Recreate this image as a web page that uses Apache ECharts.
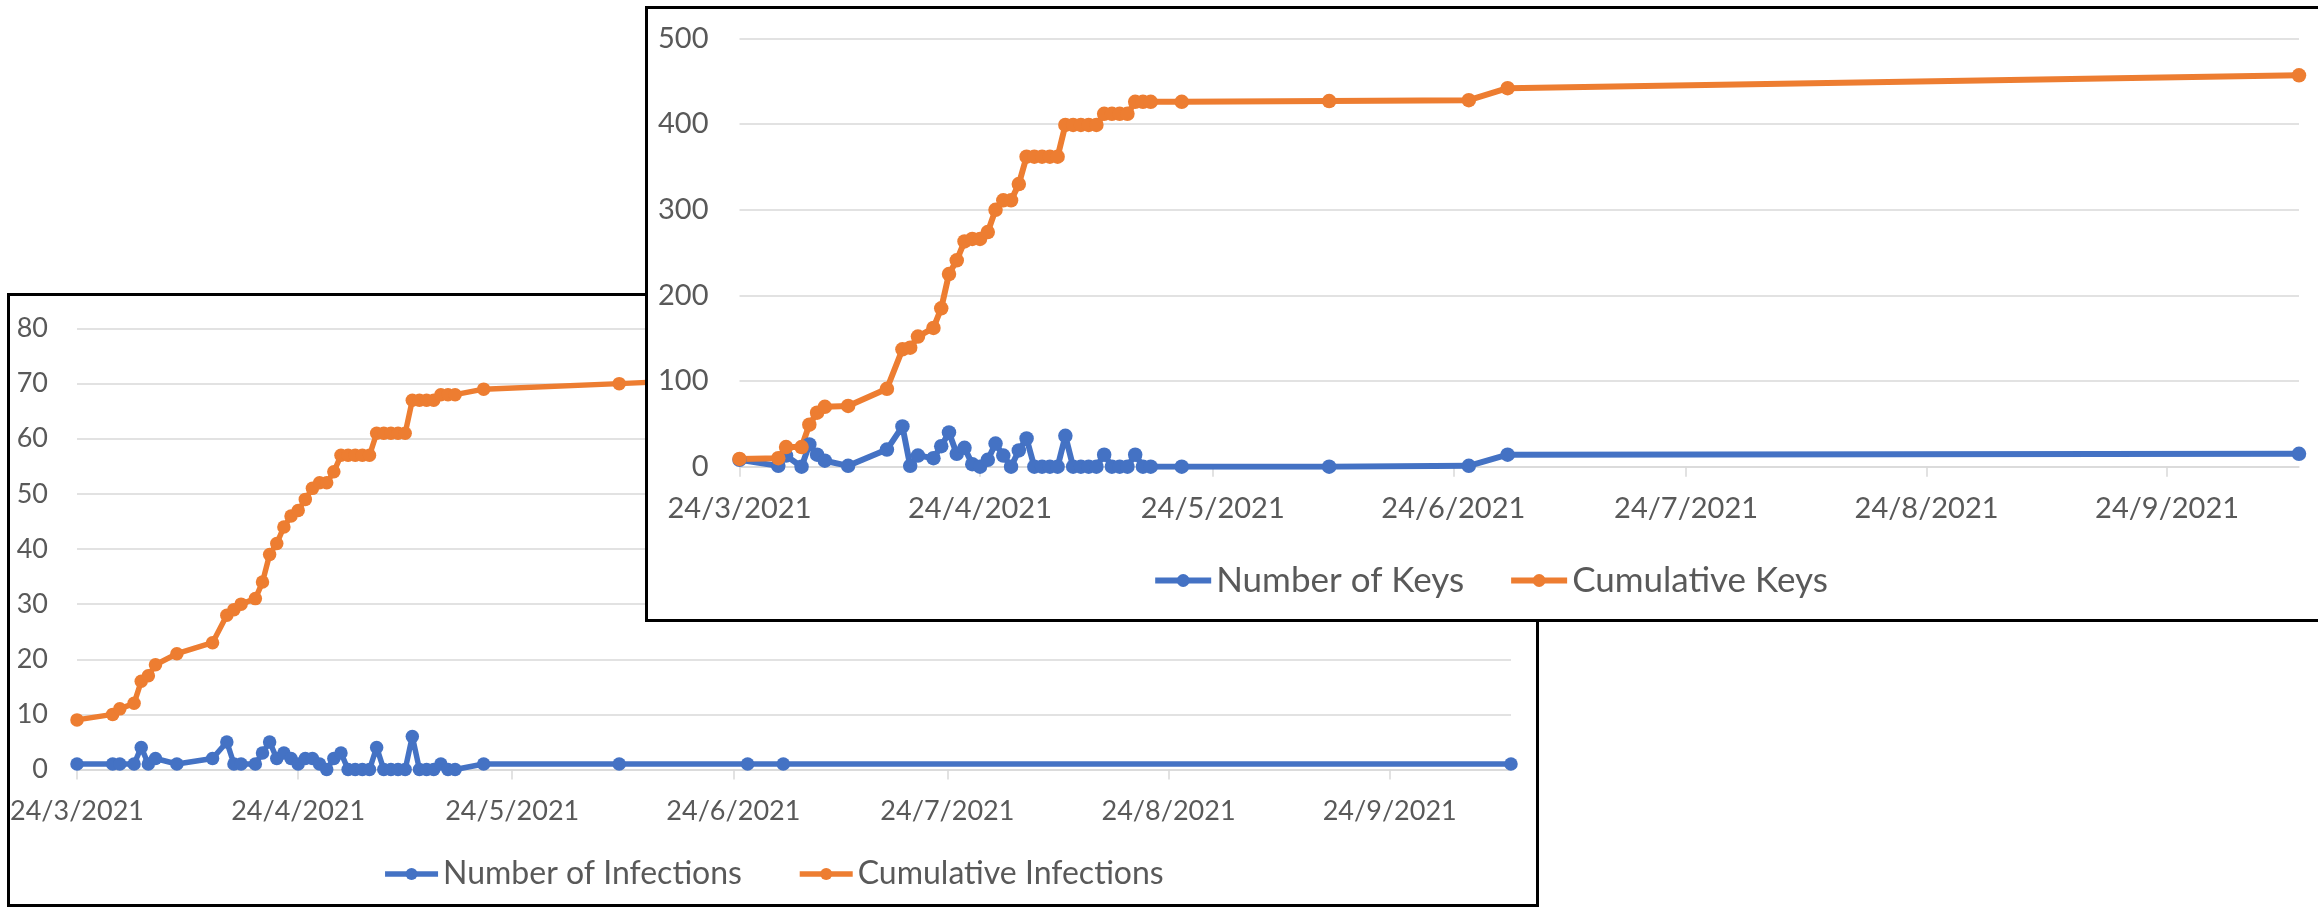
<!DOCTYPE html>
<html>
<head>
<meta charset="utf-8">
<title>Infections and Keys</title>
<script src="https://cdn.jsdelivr.net/npm/echarts@6.0.0/dist/echarts.min.js"></script>
<style>
  html, body { margin: 0; padding: 0; background: #fff; }
  body { width: 2318px; height: 907px; position: relative; overflow: hidden; }
  .box { position: absolute; box-sizing: border-box; border: 3px solid #000; background: #fff; }
  #infections-box { left: 7px; top: 293px; width: 1532px; height: 614px; z-index: 1; }
  #keys-box { left: 645px; top: 6px; width: 1690px; height: 616px; z-index: 2; }
  .chart { width: 100%; height: 100%; }
</style>
</head>
<body>
<div class="box" id="infections-box"><div class="chart" id="infections-chart"></div></div>
<div class="box" id="keys-box"><div class="chart" id="keys-chart"></div></div>

<script>
// report dates (shared by both charts)
const dates = [
  '2021-03-24', '2021-03-29', '2021-03-30', '2021-04-01', '2021-04-02', '2021-04-03',
  '2021-04-04', '2021-04-07', '2021-04-12', '2021-04-14', '2021-04-15', '2021-04-16',
  '2021-04-18', '2021-04-19', '2021-04-20', '2021-04-21', '2021-04-22', '2021-04-23',
  '2021-04-24', '2021-04-25', '2021-04-26', '2021-04-27', '2021-04-28', '2021-04-29',
  '2021-04-30', '2021-05-01', '2021-05-02', '2021-05-03', '2021-05-04', '2021-05-05',
  '2021-05-06', '2021-05-07', '2021-05-08', '2021-05-09', '2021-05-10', '2021-05-11',
  '2021-05-12', '2021-05-13', '2021-05-14', '2021-05-15', '2021-05-16', '2021-05-20',
  '2021-06-08', '2021-06-26', '2021-07-01', '2021-10-11'
];

const infections = [
  1, 1, 1, 1, 4, 1, 2, 1, 2, 5, 1, 1,
  1, 3, 5, 2, 3, 2, 1, 2, 2, 1, 0, 2, 3,
  0, 0, 0, 0, 4, 0, 0, 0, 0, 6, 0, 0, 0, 1, 0, 0,
  1, 1, 1, 1, 1
];
const cumInfections = [
  9, 10, 11, 12, 16, 17, 19, 21, 23, 28, 29, 30,
  31, 34, 39, 41, 44, 46, 47, 49, 51, 52, 52, 54, 57,
  57, 57, 57, 57, 61, 61, 61, 61, 61, 67, 67, 67, 67, 68, 68, 68,
  69, 70, 71, 72, 73
];

const keys = [
  8, 1, 13, 0, 26, 14, 7, 1, 20, 47, 1, 13,
  10, 24, 40, 15, 22, 3, 0, 8, 27, 13, 0, 19, 33,
  0, 0, 0, 0, 36, 0, 0, 0, 0, 14, 0, 0, 0, 14, 0, 0,
  0, 0, 1, 14, 15
];
const cumKeys = [
  9, 10, 23, 23, 49, 63, 70, 71, 91, 137, 139, 152,
  162, 185, 225, 241, 263, 266, 266, 274, 300, 311, 311, 330, 362,
  362, 362, 362, 362, 399, 399, 399, 399, 399, 412, 412, 412, 412, 426, 426, 426,
  426, 427, 428, 442, 457
];

// month ticks on the date axis
const tickDates = ['2021-03-24', '2021-04-24', '2021-05-24', '2021-06-24', '2021-07-24', '2021-08-24', '2021-09-24'];

const BLUE = '#4472C4';
const ORANGE = '#ED7D31';
const TEXT = '#595959';
const GRID = '#d9d9d9';
const FONT = 'Lato, "Open Sans", sans-serif';

function toTime(s) {
  const p = s.split('-');
  return new Date(+p[0], +p[1] - 1, +p[2]).getTime();
}
function fmtDate(v) {
  const d = new Date(v);
  return d.getDate() + '/' + (d.getMonth() + 1) + '/' + d.getFullYear();
}
function pairs(values) {
  return dates.map((d, i) => [toTime(d), values[i]]);
}

function lineSeries(name, color, values, s) {
  return {
    name: name,
    type: 'line',
    data: pairs(values),
    symbol: 'circle',
    symbolSize: s.marker,
    showAllSymbol: true,
    itemStyle: { color: color },
    lineStyle: { color: color, width: s.line },
    emphasis: { disabled: true }
  };
}

function buildOption(cfg) {
  const ticks = tickDates.map(toTime);
  return {
    animation: false,
    textStyle: { fontFamily: FONT },
    grid: {
      left: cfg.grid[0], top: cfg.grid[1], width: cfg.grid[2], height: cfg.grid[3],
      outerBoundsMode: 'none'
    },
    legend: {
      top: cfg.legend.top,
      left: 'center',
      itemWidth: cfg.legend.iconW,
      itemHeight: cfg.legend.iconH,
      itemGap: cfg.legend.gap,
      lineStyle: { width: cfg.mark.line },
      textStyle: { color: TEXT, fontSize: cfg.legend.font, fontFamily: FONT },
      data: [cfg.names[0], cfg.names[1]]
    },
    // dates kept as numbers so the month ticks can sit on the 24th
    xAxis: {
      type: 'value',
      min: toTime(dates[0]),
      max: toTime(dates[dates.length - 1]),
      axisLine: { lineStyle: { color: GRID, width: 1.5 } },
      axisTick: { show: true, length: 10, customValues: ticks, lineStyle: { color: GRID, width: 1.5 } },
      axisLabel: {
        customValues: ticks,
        formatter: fmtDate,
        margin: cfg.xMargin,
        color: TEXT,
        fontSize: cfg.font,
        fontFamily: FONT
      },
      splitLine: { show: false }
    },
    yAxis: {
      type: 'value',
      min: 0,
      max: cfg.yMax,
      interval: cfg.yStep,
      axisLine: { show: false },
      axisTick: { show: false },
      axisLabel: { margin: cfg.yMargin, color: TEXT, fontSize: cfg.font, fontFamily: FONT },
      splitLine: { lineStyle: { color: GRID, width: 1.5 } }
    },
    series: [
      lineSeries(cfg.names[0], BLUE, cfg.values[0], cfg.mark),
      lineSeries(cfg.names[1], ORANGE, cfg.values[1], cfg.mark)
    ]
  };
}

// back chart: infections
const infChart = echarts.init(document.getElementById('infections-chart'));
infChart.setOption(buildOption({
  grid: [67, 32.5, 1434, 441],
  font: 27,
  xMargin: 28,
  yMargin: 29,
  legend: { top: 557, font: 32, iconW: 53, iconH: 15, gap: 55 },
  mark: { line: 5.5, marker: 13.5 },
  yMax: 80,
  yStep: 10,
  names: ['Number of Infections', 'Cumulative Infections'],
  values: [infections, cumInfections]
}));

// front chart: keys
const keyChart = echarts.init(document.getElementById('keys-chart'));
keyChart.setOption(buildOption({
  grid: [91.5, 29.5, 1559.5, 428.2],
  font: 29,
  xMargin: 27,
  yMargin: 31,
  legend: { top: 549, font: 35, iconW: 56, iconH: 16, gap: 44 },
  mark: { line: 6, marker: 14.5 },
  yMax: 500,
  yStep: 100,
  names: ['Number of Keys', 'Cumulative Keys'],
  values: [keys, cumKeys]
}));
</script>
</body>
</html>
